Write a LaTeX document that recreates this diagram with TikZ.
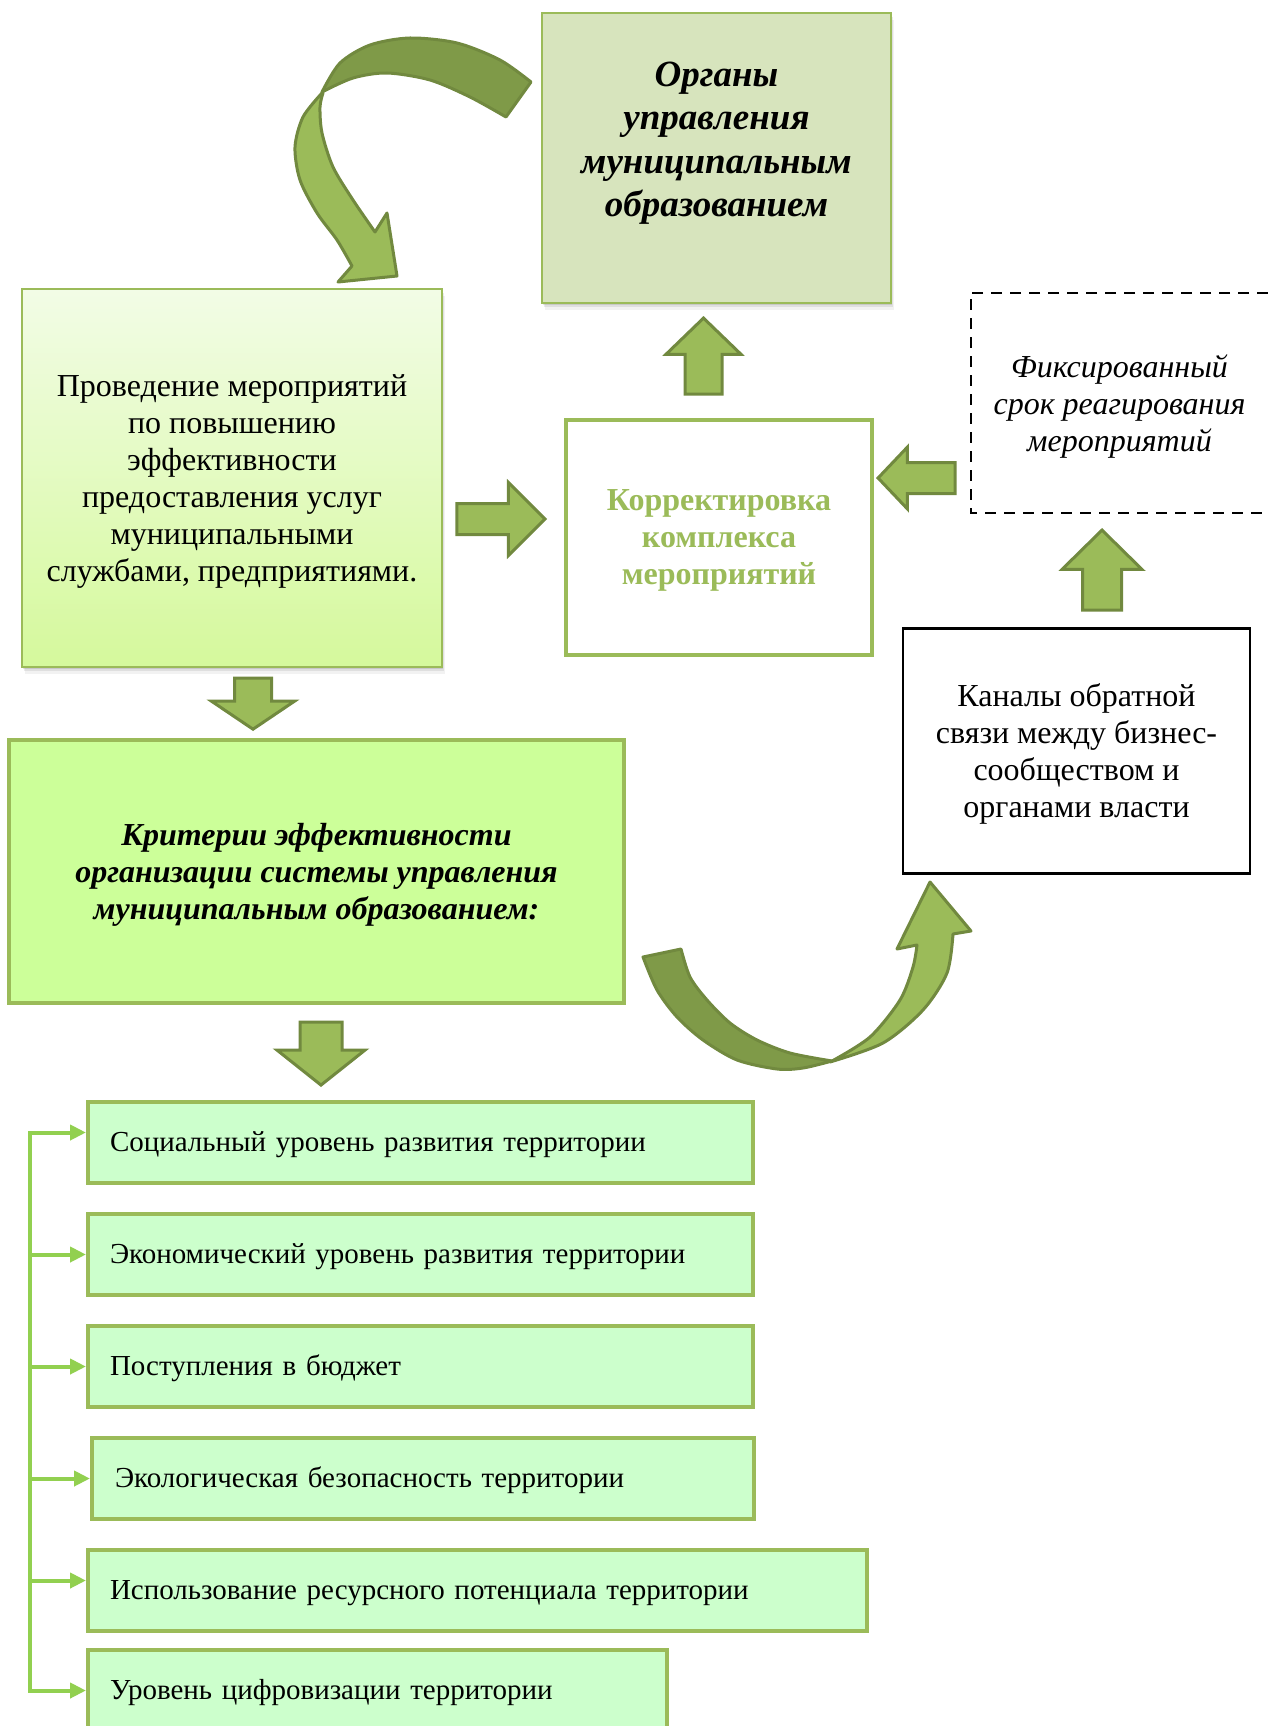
\documentclass[tikz,border=0pt]{standalone}
\usepackage{fontspec}
\setmainfont{Liberation Serif}
\usetikzlibrary{positioning,shapes.arrows,shadows,arrows.meta}

\definecolor{olivebg}{HTML}{D7E4BD}
\definecolor{boxgreen}{HTML}{9BBB59}
\definecolor{arrowedge}{HTML}{71893F}
\definecolor{arrowdark}{HTML}{7F9A48}
\definecolor{critfill}{HTML}{CCFF99}
\definecolor{itemfill}{HTML}{CCFFCC}
\definecolor{branchgreen}{HTML}{92D050}
\definecolor{acttop}{HTML}{F2FCE6}
\definecolor{actbottom}{HTML}{D5F99C}

\newcommand{\bodyfont}{\fontsize{32}{37}\selectfont}
\newcommand{\itemfont}{\fontsize{29}{34}\selectfont}
\newcommand{\headfont}{\fontsize{37}{43.5}\selectfont}

\begin{document}
\begin{tikzpicture}[x=1pt,y=-1pt,
	softshadow/.style={drop shadow={shadow xshift=1pt,shadow yshift=-2pt,fill=black,opacity=.10},
		drop shadow={shadow xshift=2pt,shadow yshift=-4pt,fill=black,opacity=.08},
		drop shadow={shadow xshift=3pt,shadow yshift=-7pt,fill=black,opacity=.05}},
	organbox/.style={draw=boxgreen,line width=2.5,fill=olivebg,softshadow},
	actbox/.style={draw=boxgreen,line width=2.5,top color=acttop,bottom color=actbottom,softshadow,align=center,font=\bodyfont,text depth=-2pt},
	corrbox/.style={draw=boxgreen,line width=4,fill=white,align=center,font=\bodyfont\bfseries,text=boxgreen,text depth=-10pt},
	fixbox/.style={align=center,font=\bodyfont\itshape,text depth=-2pt},
	chanbox/.style={draw=black,line width=2.5,fill=white,align=center,font=\bodyfont,text depth=-2pt},
	critbox/.style={draw=boxgreen,line width=4,fill=critfill,align=center,font=\bodyfont\bfseries\itshape,text depth=-2pt},
	itembox/.style={draw=boxgreen,line width=4,fill=itemfill,anchor=north west,minimum height=81,inner xsep=22,align=left,font=\itemfont,text depth=2pt},
	blockarrow/.style={single arrow,draw=arrowedge,fill=boxgreen,line width=3,inner sep=0pt,anchor=tip},
	arcdark/.style={draw=arrowedge,fill=arrowdark,line width=3,line join=round},
	arclight/.style={draw=arrowedge,fill=boxgreen,line width=3,line join=round},
	branch/.style={branchgreen,line width=4,-{Triangle[length=16pt,width=15pt]}},
	branchline/.style={branchgreen,line width=4,line cap=rect}]
	\useasboundingbox (0,0) rectangle (1268,1726);

	\node[organbox,minimum width=349,minimum height=290,
		label={[name=organtext,yshift=15pt,align=center,font=\headfont\bfseries\itshape]center:Органы\\управления\\муниципальным\\образованием}]
		(organ) at (716.5,158) {};
	\node[actbox,minimum width=420,minimum height=378] (act) at (232,478)
		{Проведение мероприятий\\по повышению\\эффективности\\предоставления услуг\\муниципальными\\службами, предприятиями.};
	\node[corrbox,minimum width=306,minimum height=235] (corr) at (719,537.5)
		{Корректировка\\комплекса\\мероприятий};
	\node[fixbox,minimum width=297,minimum height=220] (fix) at (1119.5,403)
		{Фиксированный\\срок реагирования\\мероприятий};
	\draw[line width=2.5,dash pattern=on 11pt off 8pt] (fix.north east) -- (fix.north west) -- (fix.south west) -- (fix.south east);
	\node[chanbox,minimum width=347,minimum height=245] (chan) at (1076.5,751)
		{Каналы обратной\\связи между бизнес-\\сообществом и\\органами власти};
	\node[critbox,minimum width=615,minimum height=263] (crit) at (316.5,871.5)
		{Критерии эффективности\\организации системы управления\\муниципальным образованием:};

	\node[itembox,text width=621] (it1) at (86,1100) {Социальный уровень развития территории};
	\node[itembox,text width=621] (it2) at (86,1212) {Экономический уровень развития территории};
	\node[itembox,text width=621] (it3) at (86,1324) {Поступления в бюджет};
	\node[itembox,text width=616,inner xsep=23] (it4) at (90,1436) {Экологическая безопасность территории};
	\node[itembox,text width=735] (it5) at (86,1548) {Использование ресурсного потенциала территории};
	\node[itembox,text width=535] (it6) at (86,1648) {Уровень цифровизации территории};

	\node[blockarrow,shape border rotate=90,inner sep=17,single arrow head extend=19,minimum height=76,single arrow tip angle=92] (up1) at (703.5,316) {};
	\node[blockarrow,inner sep=14,single arrow head extend=21,minimum height=88,single arrow tip angle=90] (right1) at (547,519) {};
	\node[blockarrow,shape border rotate=180,inner sep=14,single arrow head extend=15.5,minimum height=77,single arrow tip angle=93] (left1) at (876,478) {};
	\node[blockarrow,shape border rotate=90,inner sep=18,single arrow head extend=20.5,minimum height=80,single arrow tip angle=91] (up2) at (1102,528) {};
	\node[blockarrow,shape border rotate=270,inner sep=17,single arrow head extend=23,minimum height=51,single arrow tip angle=112] (down1) at (253,731) {};
	\node[blockarrow,shape border rotate=270,inner sep=19.5,single arrow head extend=23,minimum height=63,single arrow tip angle=103] (down2) at (321,1087) {};

	% curved arrow from organ to act
	\draw[arclight] plot[smooth] coordinates {(322,93) (303,117) (295,147) (300,180) (317,213) (337,240) (352,266)}
		-- (338,282) -- (397,276) -- (387,213) -- (375,232)
		-- plot[smooth] coordinates {(375,232) (353,200) (333,167) (322,133) (320,107) (323,93)} -- cycle;
	\draw[arcdark] plot[smooth] coordinates {(531,82) (500,60) (457,43) (410,38) (370,45) (340,63) (322,92)}
		-- plot[smooth] coordinates {(322,92) (353,78) (387,73) (430,80) (470,97) (506,117)} -- cycle;
	% curved arrow from crit to chan
	\draw[arcdark] plot[smooth] coordinates {(643,957) (657,990) (677,1017) (703,1040) (737,1060) (777,1069) (803,1068) (832,1061)}
		-- plot[smooth] coordinates {(832,1061) (790,1053) (757,1040) (730,1023) (707,1000) (690,977) (681,949)} -- cycle;
	\draw[arclight] plot[smooth] coordinates {(830,1062) (883,1043) (923,1010) (947,973) (953,934)}
		-- (971,931) -- (930,882) -- (897,949) -- (917,945)
		-- plot[smooth] coordinates {(917,945) (913,967) (900,1000) (870,1037) (832,1061)} -- cycle;

	\coordinate (trunk) at (30,1130);
	\draw[branchline] ([yshift=10pt]it1.west -| trunk) -- (it6.west -| trunk);
	\draw[branch] ([yshift=10pt]it1.west -| trunk) -- ([yshift=10pt]it1.west);
	\draw[branch] (it2.west -| trunk) -- (it2.west);
	\draw[branch] (it3.west -| trunk) -- (it3.west);
	\draw[branch] (it4.west -| trunk) -- (it4.west);
	\draw[branch] ([yshift=10pt]it5.west -| trunk) -- ([yshift=10pt]it5.west);
	\draw[branch] (it6.west -| trunk) -- (it6.west);
\end{tikzpicture}
\end{document}
